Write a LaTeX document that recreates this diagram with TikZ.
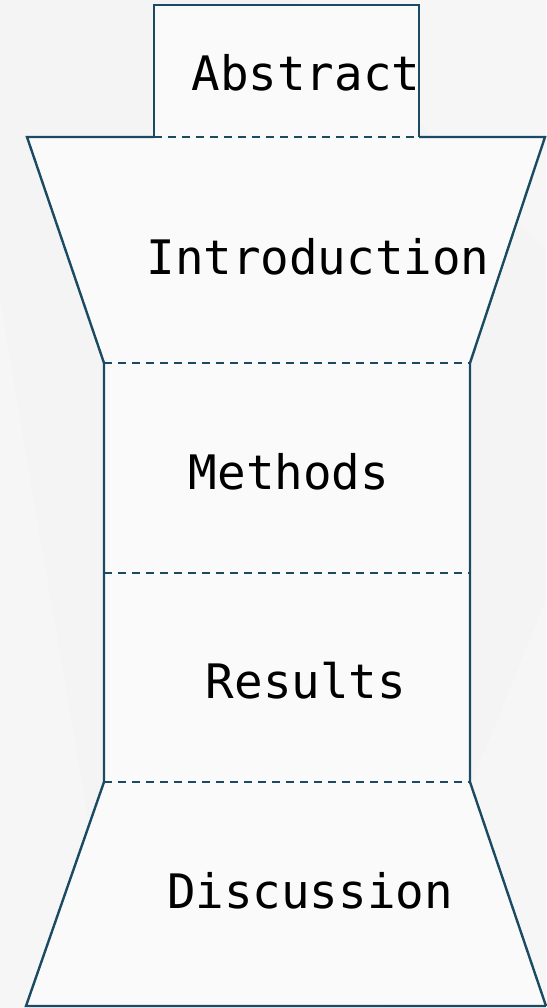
\documentclass[tikz,border=0pt]{standalone}
\usepackage{fontspec}
\setmonofont{DejaVu Sans Mono}
\definecolor{edge}{HTML}{1B4A63}
\definecolor{bg}{HTML}{F4F4F4}
\definecolor{inner}{HTML}{FAFAFA}
\begin{document}
\begin{tikzpicture}[x=1pt,y=-1pt,
  outline/.style={draw=edge,line width=2.4pt,line join=miter},
  divider/.style={draw=edge,line width=2.4pt,dash pattern=on 8pt off 6pt},
  label/.style={font=\ttfamily\fontsize{47.5}{47.5}\selectfont,text=black,inner sep=0pt,anchor=center}]
\fill[bg] (0,0) rectangle (546,1008);
\useasboundingbox (0,0) rectangle (546,1008);
% faint background facets
\fill[white,opacity=0.2] (0,300) -- (120,1008) -- (0,1008) -- cycle;
\fill[white,opacity=0.2] (546,600) -- (380,1008) -- (546,1008) -- cycle;
\fill[white,opacity=0.2] (300,0) -- (546,0) -- (546,250) -- cycle;
% fills
\fill[inner] (154,5) rectangle (419,137);
\fill[inner] (27,137) -- (545,137) -- (470,363) -- (104,363) -- cycle;
\fill[inner] (104,363) rectangle (470,782);
\fill[inner] (104,782) -- (470,782) -- (546,1006) -- (26,1006) -- cycle;
% outlines
\draw[outline] (154,137) -- (154,5) -- (419,5) -- (419,137);
\draw[outline] (154,137) -- (27,137) -- (104,363) -- (104,782) -- (26,1006) -- (546,1006);
\draw[outline] (419,137) -- (545,137) -- (470,363) -- (470,782) -- (546,1006);
\draw[divider] (154,137) -- (419,137);
\draw[divider] (104,363) -- (470,363);
\draw[divider] (104,573) -- (470,573);
\draw[divider] (104,782) -- (470,782);
% labels
\node[label] (abstract) at (306,73) {Abstract};
\node[label] (intro) at (318,257) {Introduction};
\node[label] (methods) at (289,472) {Methods};
\node[label] (results) at (306,681) {Results};
\node[label] (discussion) at (310,891) {Discussion};
\end{tikzpicture}
\end{document}
